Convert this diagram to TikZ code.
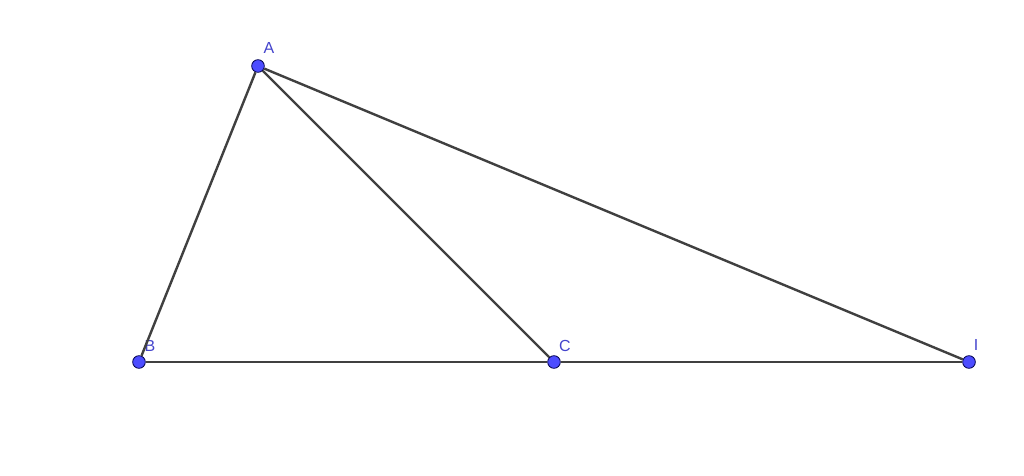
\documentclass[tikz,border=0pt]{standalone}
\usepackage{fontspec}
\setmainfont{Liberation Sans}
\usepackage{tikz}
\usetikzlibrary{arrows, calc}
\definecolor{ptblue}{RGB}{77,77,255}
\definecolor{lblblue}{RGB}{68,68,204}
\definecolor{segray}{RGB}{64,64,64}

\begin{document}
\begin{tikzpicture}[x=0.75pt, y=-0.75pt, inner sep=0pt,
		pt/.style={circle, draw=black!70!blue, fill=ptblue, line width=0.6pt, minimum size=9.5pt},
		lbl/.style={text=lblblue, font=\fontsize{12}{14}\selectfont},
		seg/.style={draw=segray, line width=1.8pt}]
		\useasboundingbox (0,0) rectangle (1024,475);

		\node[pt](A) at (258,66) {};
		\node[pt](B) at (139,362) {};
		\node[pt](C) at (554,362) {};
		\node[pt](I) at (969,362) {};

		\node[lbl](lA) at (269,48) {A};
		\node[lbl](lB) at (150,346) {B};
		\node[lbl](lC) at (565,346) {C};
		\node[lbl](lI) at (976,345) {I};

		\draw[seg](B) -- (A);
		\draw[seg](A) -- (C);
		\draw[seg](A) -- (I);
		\draw[seg](B) -- (C);
		\draw[seg](C) -- (I);
	\end{tikzpicture}
\end{document}
